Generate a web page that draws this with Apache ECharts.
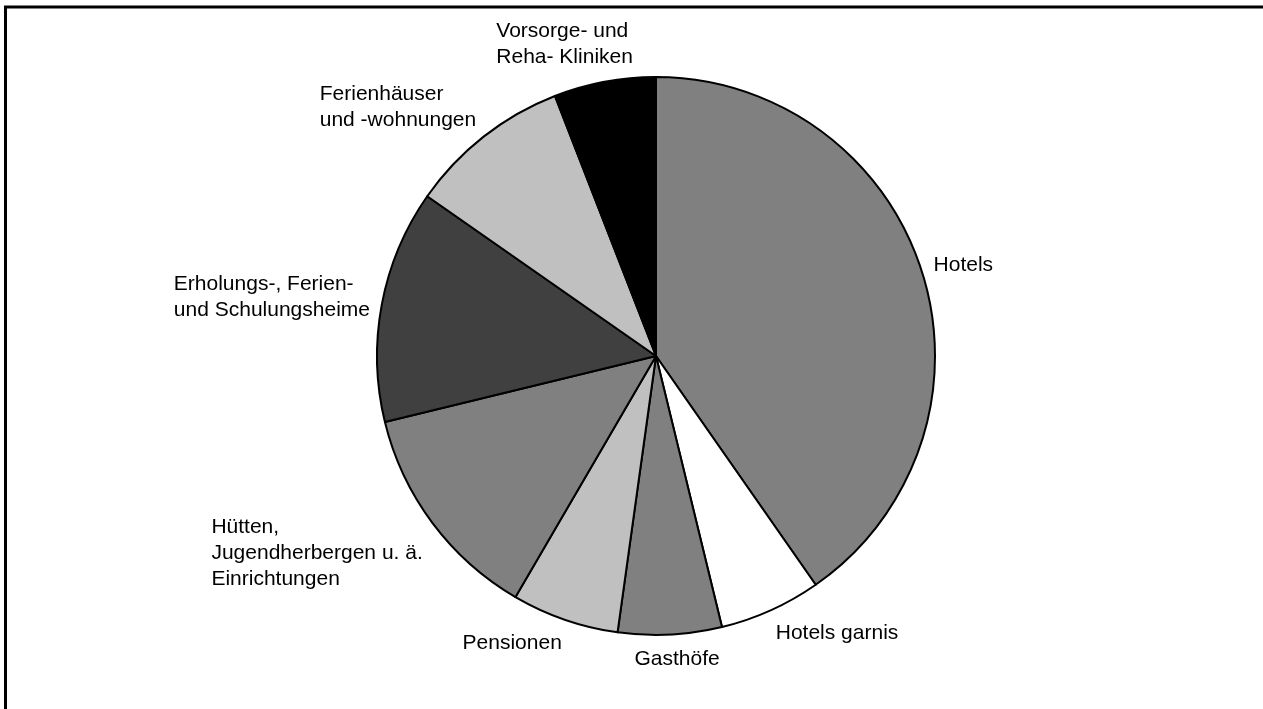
<!DOCTYPE html>
<html>
<head>
<meta charset="utf-8">
<script src="https://cdn.jsdelivr.net/npm/echarts@6/dist/echarts.min.js"></script>
<style>
html,body{margin:0;padding:0;background:#fff;}
#chart{width:1263px;height:709px;}
</style>
</head>
<body>
<div id="chart"></div>
<script>
const categories = [
  "Hotels",
  "Hotels garnis",
  "Gasthöfe",
  "Pensionen",
  "Hütten,\nJugendherbergen u. ä.\nEinrichtungen",
  "Erholungs-, Ferien-\nund Schulungsheime",
  "Ferienhäuser\nund -wohnungen",
  "Vorsorge- und\nReha- Kliniken"
];
const values = [40.3, 5.9, 6.0, 6.2, 12.8, 13.5, 9.4, 5.9];
const colors = ["#808080", "#ffffff", "#808080", "#c0c0c0", "#808080", "#404040", "#c0c0c0", "#000000"];

const CX = 656, CY = 356, R = 279, GAP = 12;
const total = values.reduce((a, b) => a + b, 0);
const midAngles = [];
let acc = 0;
values.forEach(v => { midAngles.push((acc + v / 2) / total * 2 * Math.PI); acc += v; });

const chart = echarts.init(document.getElementById('chart'), null, {renderer: 'canvas'});
chart.setOption({
  animation: false,
  backgroundColor: '#ffffff',
  graphic: [{
    type: 'polyline',
    shape: {points: [[5.5, 709], [5.5, 7], [1263, 7]]},
    style: {stroke: '#000', lineWidth: 3, fill: null}
  }],
  series: [{
    type: 'pie',
    center: [CX, CY],
    radius: [0, R],
    startAngle: 90,
    clockwise: true,
    data: categories.map((c, i) => ({name: c, value: values[i], itemStyle: {color: colors[i]}})),
    itemStyle: {borderColor: '#000', borderWidth: 2},
    label: {
      show: true,
      position: 'outside',
      formatter: '{b}',
      fontFamily: 'Liberation Sans, Arial, sans-serif',
      fontSize: 21,
      lineHeight: 26,
      color: '#000',
      align: 'left'
    },
    labelLine: {show: false},
    emphasis: {disabled: true},
    labelLayout: function (p) {
      const a = midAngles[p.dataIndex];
      const ux = Math.sin(a), uy = -Math.cos(a);
      const hw = p.labelRect.width / 2, hh = p.labelRect.height / 2;
      const k = Math.max(-1, Math.min(1, ux * 3));
      const cx = CX + ux * (R + GAP) + hw * k;
      const cy = CY + uy * (R + GAP) + hh * uy;
      return {x: cx - hw, y: cy, align: 'left', verticalAlign: 'middle'};
    }
  }]
});
</script>
</body>
</html>
